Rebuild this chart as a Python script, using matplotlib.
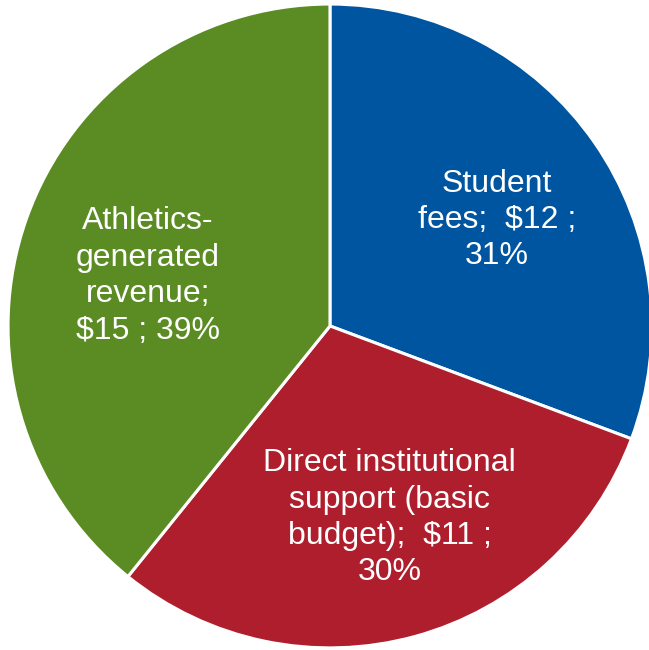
import matplotlib as mpl
mpl.use('Agg')
import matplotlib.pyplot as plt

# Revenue sources (millions of $) and shares
categories = ['Student fees', 'Direct institutional support (basic budget)', 'Athletics-generated revenue']
dollars = [12, 11, 15]
shares = [30.7, 30.1, 39.2]
labels = ['Student\nfees;  $12 ;\n31%',
          'Direct institutional\nsupport (basic\nbudget);  $11 ;\n30%',
          'Athletics-\ngenerated\nrevenue;\n$15 ; 39%']
colors = ['#0055A0', '#AF1E2D', '#5B8C23']
label_pos = [(0.519, 0.329), (0.186, -0.596), (-0.565, 0.155)]

plt.rcParams['font.family'] = ['Liberation Sans', 'DejaVu Sans']

fig = plt.figure(figsize=(6.49, 6.5), dpi=100)
ax = fig.add_axes([0, 0, 1, 1])
ax.pie(shares, colors=colors, startangle=90, counterclock=False, radius=1,
       wedgeprops=dict(edgecolor='white', linewidth=2.2))
for lab, (x, y) in zip(labels, label_pos):
    ax.text(x, y, lab, ha='center', va='center', color='white', fontsize=23, linespacing=1.28)

ax.set_xlim(-1.025, 0.991)
ax.set_ylim(-1.006, 1.012)
ax.axis('off')
fig.savefig('out.png', dpi=100)
